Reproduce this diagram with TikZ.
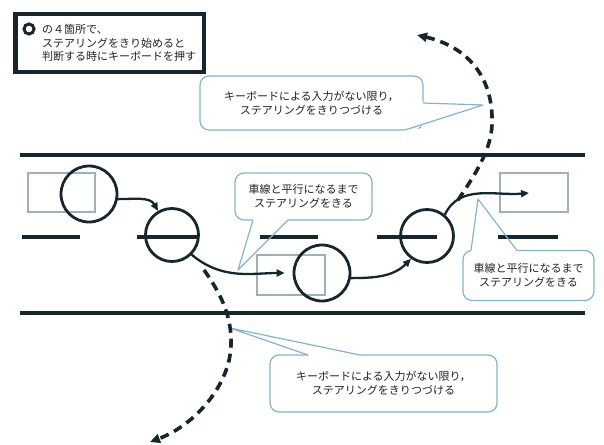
\documentclass[tikz,border=0pt]{standalone}
\usepackage{fontspec}
\newfontfamily\jp{Noto Sans CJK JP}
\usetikzlibrary{arrows.meta,calc}
\definecolor{ink}{HTML}{17262D}
\definecolor{calloutblue}{HTML}{86B3CC}
\definecolor{carblue}{HTML}{9DB0BC}
\definecolor{txt}{HTML}{222222}
\begin{document}
\begin{tikzpicture}[x=1pt,y=1pt,
  road/.style={ink, line width=3.5pt},
  car/.style={carblue, line width=1.3pt},
  wheel/.style={circle, draw=ink, line width=2.8pt, minimum size=54pt, inner sep=0pt},
  turn/.style={ink, line width=2.3pt, -{Triangle[length=8pt,width=7pt]}},
  keep/.style={ink, line width=3.6pt, dash pattern=on 9pt off 6pt, -{Triangle[length=10pt,width=9pt]}},
  bubble/.style={draw=calloutblue, line width=1.2pt, fill=white, rounded corners=9pt, text=txt, align=center, inner sep=0pt, font=\jp\fontsize{11}{14}\selectfont},
  tail/.style={calloutblue, line width=1.2pt, line join=round},
  jptext/.style={text=txt, font=\jp\fontsize{11}{13.5}\selectfont, inner sep=0pt},
]
\useasboundingbox (0,0) rectangle (604,-444);

% road
\draw[road] (20,-155) -- (585,-155);
\draw[road] (20,-313) -- (585,-313);
\foreach \a/\b in {22/80,137/198,260/318,377/437,498/558}
  \draw[road] (\a,-237) -- (\b,-237);

% cars
\draw[car] (28,-173) rectangle (95,-212);
\draw[car] (257,-255) rectangle (325,-295);
\draw[car] (500,-173) rectangle (568,-212);

% callouts
\node[bubble, minimum width=223pt, minimum height=54pt] (cbtop) at (311.5,-103)
  {キーボードによる入力がない限り，\\ステアリングをきりつづける};
\fill[white] (421.4,-101.5) -- (426,-101.5) -- (426,-133) -- (405,-133) -- (405,-128.6) -- (421.4,-128.6) -- cycle;
\draw[tail] (423,-103) -- (483,-105) -- (405,-130);

\node[bubble, minimum width=137pt, minimum height=47pt] (cbmid) at (303.5,-196.5)
  {車線と平行になるまで\\ステアリングをきる};
\fill[white] (253,-218.6) rectangle (288,-221.4);
\draw[tail] (253,-220) -- (238,-270) -- (288,-220);

\node[bubble, minimum width=131pt, minimum height=50pt] (cbright) at (528.5,-275.5)
  {車線と平行になるまで\\ステアリングをきる};
\fill[white] (471,-249.1) rectangle (517,-251.9);
\draw[tail] (471,-250.5) -- (478,-199) -- (517,-250.5);

\node[bubble, minimum width=227pt, minimum height=57pt] (cbbot) at (383.5,-383.5)
  {キーボードによる入力がない限り，\\ステアリングをきりつづける};
\fill[white] (308,-353.6) rectangle (360,-356.4);
\draw[tail] (308,-355) -- (230,-328) -- (360,-355);

% legend
\node[draw=ink, line width=4.5pt, fill=white, minimum width=188.5pt, minimum height=57.5pt, inner sep=0pt] (legend) at (109.5,-43) {};
\node[circle, draw=ink, line width=3pt, minimum size=10pt, inner sep=0pt] (icon) at (29,-29) {};
\node[jptext, anchor=west, align=left] (legendtext) at (42,-43)
  {の４箇所で、\\ステアリングをきり始めると\\判断する時にキーボードを押す};

% steering points
\node[wheel, minimum size=56pt] (c1) at (89,-194) {};
\node[wheel, minimum size=53pt] (c2) at (172,-235) {};
\node[wheel, minimum size=56pt] (c3) at (322,-273) {};
\node[wheel, minimum size=53pt] (c4) at (427,-236) {};

% turning arrows
\coordinate (dtip) at (529,-193);
\draw[turn] (c1.-10) to[out=0,in=120] (c2.120);
\draw[turn, shorten >=8pt] (c2.-45) to[out=-40,in=180] (c3.west);
\draw[turn] (c3.-10) to[out=0,in=225] (c4.235);
\draw[turn] (c4.50) to[out=65,in=185] (dtip);

% keep-steering arrows
\coordinate (e0) at (458,-200);
\coordinate (e1) at (492,-125);
\coordinate (etip) at (417,-35);
\draw[keep] (e0) .. controls (475,-175) and (491,-150) .. (e1)
  .. controls (494,-70) and (460,-45) .. (etip);
\coordinate (f0) at (204,-270);
\coordinate (f1) at (231,-345);
\coordinate (ftip) at (150,-442);
\draw[keep] (f0) .. controls (222,-295) and (232,-318) .. (f1)
  .. controls (230,-385) and (195,-425) .. (ftip);
\end{tikzpicture}
\end{document}
